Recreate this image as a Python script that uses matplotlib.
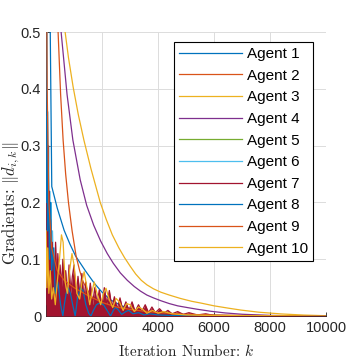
import numpy as np
import matplotlib
matplotlib.use('Agg')
import matplotlib.pyplot as plt

plt.rcParams['font.family'] = ['Liberation Sans', 'DejaVu Sans']
plt.rcParams['mathtext.fontset'] = 'cm'

# agent colours (MATLAB default order)
colors = ['#0072BD', '#D95319', '#EDB120', '#7E2F8E', '#77AC30',
          '#4DBEEE', '#A2142F', '#0072BD', '#D95319', '#EDB120']
labels = ['Agent %d' % i for i in range(1, 11)]

# agent 1 - smooth decay
a1_x = [1, 150, 204, 400, 645, 850, 1051, 1400, 1720, 2000, 2318, 2700, 3154, 4000, 5000, 7000, 10000]
a1_y = [1.0, 0.5, 0.228, 0.19, 0.151, 0.127, 0.106, 0.08, 0.058, 0.042, 0.028, 0.018, 0.0106, 0.005, 0.002, 0.0005, 0.0001]

# agent 2 - steep smooth decay
a2_x = [1, 150, 300, 430, 520, 609, 700, 800, 930, 1075, 1200, 1326, 1600, 2000, 2500, 3000, 4000, 6000, 10000]
a2_y = [2.0, 1.0, 0.7, 0.5, 0.39, 0.31, 0.25, 0.2, 0.15, 0.105, 0.08, 0.06, 0.035, 0.018, 0.009, 0.005, 0.0015, 0.0002, 0.0]

# agent 3 - slowest smooth decay
a3_x = [1, 400, 681, 800, 968, 1150, 1350, 1600, 1935, 2150, 2366, 2600, 2800, 3000, 3200,
        3400, 3600, 3835, 4100, 4400, 4800, 5200, 5520, 6000, 6500, 6953, 7600, 8387, 9200, 10000]
a3_y = [1.0, 0.65, 0.5, 0.455, 0.403, 0.355, 0.31, 0.26, 0.2, 0.17, 0.143, 0.12, 0.103, 0.088,
        0.074, 0.063, 0.055, 0.048, 0.042, 0.037, 0.031, 0.026, 0.023, 0.018, 0.014, 0.0106,
        0.0068, 0.0038, 0.0018, 0.0006]

# agent 4 - smooth decay
a4_x = [1, 300, 538, 750, 957, 1219, 1450, 1700, 1950, 2186, 2400, 2652, 2900, 3150, 3369,
        3600, 3835, 4100, 4400, 4700, 5043, 5400, 5878, 6400, 7000, 8000, 9000, 10000]
a4_y = [1.2, 0.7, 0.5, 0.39, 0.31, 0.24, 0.195, 0.16, 0.132, 0.11, 0.093, 0.076, 0.063, 0.052,
        0.044, 0.037, 0.032, 0.027, 0.022, 0.018, 0.015, 0.012, 0.0085, 0.0055, 0.0032, 0.0012,
        0.0004, 0.0001]

# agent 5 - near zero
a5_x = [1, 20, 50, 100, 300, 600, 1000, 2000, 10000]
a5_y = [0.13, 0.02, 0.05, 0.01, 0.008, 0.006, 0.004, 0.001, 0.0]

# agent 6 - large early spikes
a6_x = [1, 10, 25, 40, 55, 70, 90, 110, 130, 150, 175, 200, 230, 260, 290, 320, 360,
        400, 450, 500, 600, 800, 1000, 1500, 2000, 10000]
a6_y = [0.6, 0.2, 0.55, 0.1, 0.36, 0.15, 0.3, 0.08, 0.22, 0.1, 0.2, 0.06, 0.15, 0.05,
        0.12, 0.03, 0.06, 0.02, 0.03, 0.01, 0.008, 0.005, 0.003, 0.002, 0.001, 0.0]

# agent 7 - dense oscillation (upper edge)
a7_x = [1, 20, 40, 60, 80, 100, 130, 160, 190, 220, 250, 280, 310, 340, 380, 420, 460,
        500, 550, 600, 650, 700, 760, 820, 880, 940, 1000, 1070, 1140, 1210, 1280, 1350,
        1420, 1500, 1580, 1660, 1740, 1820, 1900, 1990, 2080, 2170, 2260, 2350, 2440,
        2540, 2640, 2740, 2850, 2960, 3070, 3180, 3300, 3420, 3540, 3660, 3780, 3900,
        4050, 4200, 4350, 4500, 4700, 4900, 5100, 5400, 5700, 6000, 7000, 10000]
a7_y = [0.02, 0.31, 0.18, 0.30, 0.12, 0.22, 0.08, 0.17, 0.06, 0.13, 0.05, 0.10, 0.06,
        0.13, 0.05, 0.11, 0.04, 0.09, 0.05, 0.10, 0.04, 0.08, 0.03, 0.09, 0.04, 0.07,
        0.09, 0.03, 0.07, 0.035, 0.075, 0.03, 0.06, 0.025, 0.058, 0.02, 0.05, 0.02,
        0.046, 0.018, 0.05, 0.02, 0.045, 0.015, 0.034, 0.012, 0.032, 0.01, 0.025, 0.01,
        0.025, 0.008, 0.02, 0.008, 0.02, 0.006, 0.016, 0.006, 0.013, 0.005, 0.01, 0.004,
        0.008, 0.003, 0.006, 0.002, 0.004, 0.001, 0.001, 0.0005]

# agent 8 - oscillating bumps
a8_x = [1, 15, 30, 50, 80, 120, 160, 200, 260, 330, 420, 520, 600, 650, 720, 790, 870,
        950, 1040, 1120, 1220, 1320, 1420, 1520, 1600, 1690, 1800, 1920, 2050, 2180,
        2300, 2400, 2470, 2560, 2700, 2850, 2950, 3100, 3300, 3500, 3700, 4000, 4500,
        5000, 6000, 10000]
a8_y = [0.5, 0.2, 0.35, 0.15, 0.25, 0.1, 0.2, 0.08, 0.12, 0.04, 0.06, 0.02, 0.0, 0.02,
        0.04, 0.05, 0.04, 0.02, 0.0, 0.03, 0.05, 0.045, 0.02, 0.005, 0.0, 0.01, 0.02,
        0.023, 0.02, 0.01, 0.0, 0.01, 0.015, 0.012, 0.003, 0.008, 0.01, 0.004, 0.006,
        0.002, 0.004, 0.002, 0.001, 0.0005, 0.0003, 0.0]

# agent 9 - lower smooth decay
a9_x = [1, 40, 100, 200, 400, 645, 1000, 1500, 2000, 2500, 3154, 4000, 5000, 7000, 10000]
a9_y = [0.8, 0.4, 0.2, 0.12, 0.08, 0.063, 0.05, 0.036, 0.024, 0.016, 0.0106, 0.006, 0.003, 0.001, 0.0002]

# agent 10 - oscillating
a10_x = [1, 30, 60, 100, 150, 200, 260, 330, 400, 480, 550, 610, 680, 760, 840, 925,
         1000, 1100, 1200, 1280, 1360, 1460, 1560, 1650, 1720, 1820, 1950, 2050, 2140,
         2250, 2380, 2500, 2620, 2750, 2880, 3000, 3150, 3300, 3450, 3600, 3800, 4000,
         4200, 4500, 5000, 6000, 10000]
a10_y = [0.15, 0.05, 0.12, 0.04, 0.08, 0.03, 0.05, 0.02, 0.06, 0.1, 0.143, 0.13, 0.06,
         0.04, 0.08, 0.11, 0.09, 0.04, 0.03, 0.06, 0.078, 0.05, 0.02, 0.045, 0.06, 0.04,
         0.02, 0.04, 0.049, 0.03, 0.015, 0.031, 0.025, 0.01, 0.022, 0.02, 0.008, 0.016,
         0.012, 0.005, 0.01, 0.005, 0.008, 0.004, 0.002, 0.001, 0.0]

xs = [a1_x, a2_x, a3_x, a4_x, a5_x, a6_x, a7_x, a8_x, a9_x, a10_x]
ys = [a1_y, a2_y, a3_y, a4_y, a5_y, a6_y, a7_y, a8_y, a9_y, a10_y]

fig = plt.figure(figsize=(3.6, 3.6), dpi=100)
ax = fig.add_axes([0.128, 0.122, 0.778, 0.789])

for i in range(10):
    if i in (5, 6):
        ax.fill_between(xs[i], 0, ys[i], color=colors[i], lw=0, zorder=2 + i * 0.1)
    ax.plot(xs[i], ys[i], c=colors[i], linewidth=0.9, label=labels[i], zorder=2 + i * 0.1)

ax.set_xlim(1, 10000)
ax.set_ylim(0, 0.5)
ax.set_xticks([2000, 4000, 6000, 8000, 10000])
ax.set_yticks([0, 0.1, 0.2, 0.3, 0.4, 0.5])
ax.set_yticklabels(['0', '0.1', '0.2', '0.3', '0.4', '0.5'])
ax.tick_params(labelsize=10.5, direction='in', length=3, width=0.6, colors='#262626')
ax.grid(True, color='#dcdcdc', linewidth=0.7)
ax.set_axisbelow(True)
for s in ['top', 'right']:
    ax.spines[s].set_visible(False)
for s in ['left', 'bottom']:
    ax.spines[s].set_linewidth(0.7)
    ax.spines[s].set_color('#262626')

ax.set_xlabel(r'Iteration Number: $k$', fontsize=11, color='#262626', family='cmr10')
ax.set_ylabel(r'Gradients: $\|d_{i,k}\|$', fontsize=12, color='#262626', family='cmr10')
ax.xaxis.set_label_coords(0.5, -0.095)
ax.yaxis.set_label_coords(-0.085, 0.398)

leg = ax.legend(loc='upper right', bbox_to_anchor=(0.982, 0.993), fontsize=11,
                handlelength=4.1, handletextpad=0.35, labelspacing=0.5,
                fancybox=False, framealpha=1, edgecolor='black', borderpad=0.35)
leg.get_frame().set_linewidth(0.8)
leg.set_zorder(10)

plt.savefig('out.png', dpi=100)
